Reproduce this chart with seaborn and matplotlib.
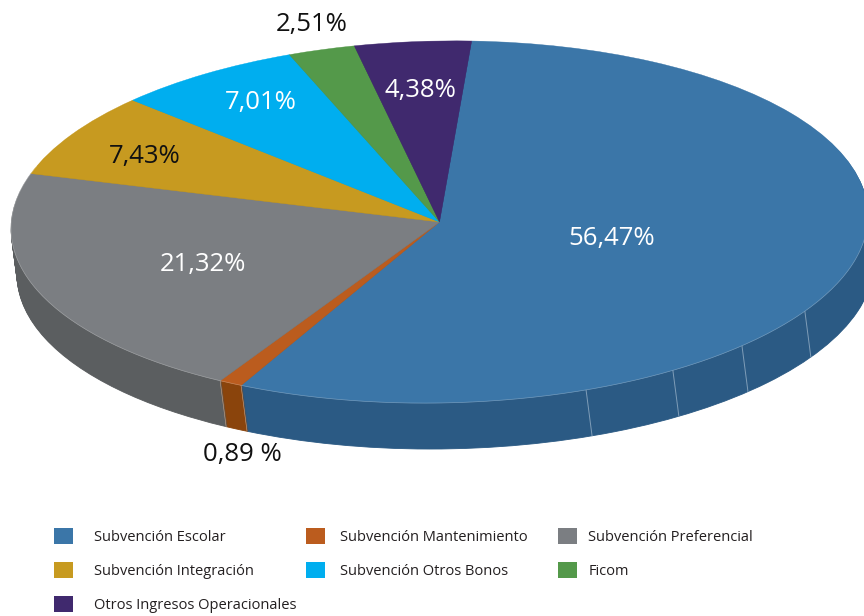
# Pie with a fake 3D rim: the same pie stacked downwards, darker, then the top face on it
import numpy as np
import matplotlib.pyplot as plt
from matplotlib.patches import Patch
from matplotlib.transforms import Affine2D
import seaborn as sns

categories = ['Subvención Escolar', 'Subvención Mantenimiento', 'Subvención Preferencial',
              'Subvención Integración', 'Subvención Otros Bonos', 'Ficom',
              'Otros Ingresos Operacionales']
shares = [56.47, 0.89, 21.32, 7.43, 7.01, 2.51, 4.38]
share_labels = ['56,47%', '0,89 %', '21,32%', '7,43%', '7,01%', '2,51%', '4,38%']
top_colors = ['#3b76a8', '#bb5c1e', '#7b7e82', '#c79a20', '#00aeef', '#54994a', '#40296e']
side_colors = ['#2b5a84', '#8a440c', '#5b5e60', '#94721a', '#0082b3', '#3e7337', '#2f1e52']

sns.set_theme(style='white')
plt.rcParams['font.family'] = ['Open Sans', 'DejaVu Sans']

W, H = 864, 616
CX, CY, RX, RY = 439.5, 222, 428.5, 181
START = 85.7
DEPTH_X, DEPTH_Y = 6, 46

fig = plt.figure(figsize=(W / 100, H / 100), dpi=100)
ax = fig.add_axes([0, 0, 1, 1])

# the drawing is slightly tilted, left side lower than right
tilt = Affine2D.from_values(1, 0.035, 0, 1, 0, 0) + ax.transData

# rim: one pie per pixel of depth, lowest first
for step in np.arange(DEPTH_Y, 0, -1):
    rim, _ = ax.pie(shares, colors=sns.color_palette(side_colors), startangle=START, counterclock=False,
                    radius=1, center=(step * DEPTH_X / DEPTH_Y / RX, -step / RY))
    for w, c in zip(rim, side_colors):
        w.set_edgecolor(c)
        w.set_linewidth(0.6)
        w.set_transform(tilt)

# thin pale seams on the rim of the big slice
for angle in [-70, -57, -45.1, -31.5]:
    x0, y0 = np.cos(np.radians(angle)), np.sin(np.radians(angle))
    ax.plot([x0, x0 + DEPTH_X / RX], [y0, y0 - DEPTH_Y / RY], color='#7f9db8', lw=0.7, zorder=5, transform=tilt)

# seams where the slices meet on the rim
edges = START - np.cumsum([0] + shares[:3]) * 3.6
for angle in edges[1:3]:
    x0, y0 = np.cos(np.radians(angle)), np.sin(np.radians(angle))
    ax.plot([x0, x0 + DEPTH_X / RX], [y0, y0 - DEPTH_Y / RY], color='#c9a68c', lw=0.4, zorder=5, transform=tilt)

wedges, _ = ax.pie(shares, colors=sns.color_palette(top_colors), startangle=START, counterclock=False,
                   radius=1)
for w, c in zip(wedges, top_colors):
    w.set_zorder(6)
    w.set_edgecolor(c)
    w.set_linewidth(0.3)
    w.set_transform(tilt)

# pale highlight along the front edge of the top face
t = np.radians(np.linspace(5, -200, 200))
ax.plot(np.cos(t), np.sin(t), color='white', alpha=0.3, lw=0.5, zorder=7, transform=tilt)

# pie forces an equal aspect, undo it to get the flat ellipse
ax.set_aspect('auto')
ax.set_xlim(-CX / RX, (W - CX) / RX)
ax.set_ylim(-(H - CY) / RY, CY / RY)

label_pos = [(612, 238), (242, 455), (203, 265), (145, 156), (261, 102), (312, 24), (420, 90)]
label_colors = ['white', '#111111', 'white', '#111111', 'white', '#111111', 'white']
for text, (px, py), c in zip(share_labels, label_pos, label_colors):
    fig.text(px / W, 1 - py / H, text, color=c, fontsize=18.5, ha='center', va='center', zorder=10)

# three separate legends because the columns are not evenly spaced
columns = [([0, 3, 6], 54, 1.45), ([1, 4], 306, 1.03), ([2, 5], 558, 0.76)]
for idx, px, pad in columns:
    handles = [Patch(facecolor=top_colors[i], edgecolor='none', label=categories[i]) for i in idx]
    fig.legend(handles=handles, loc='upper left', bbox_to_anchor=(px / W, 1 - 528 / H),
               frameon=False, fontsize=10.55, borderpad=0, borderaxespad=0,
               handlelength=1.3, handleheight=1.3, handletextpad=pad, labelspacing=1.17,
               labelcolor='#231f20')

fig.savefig('out.png', dpi=100)
